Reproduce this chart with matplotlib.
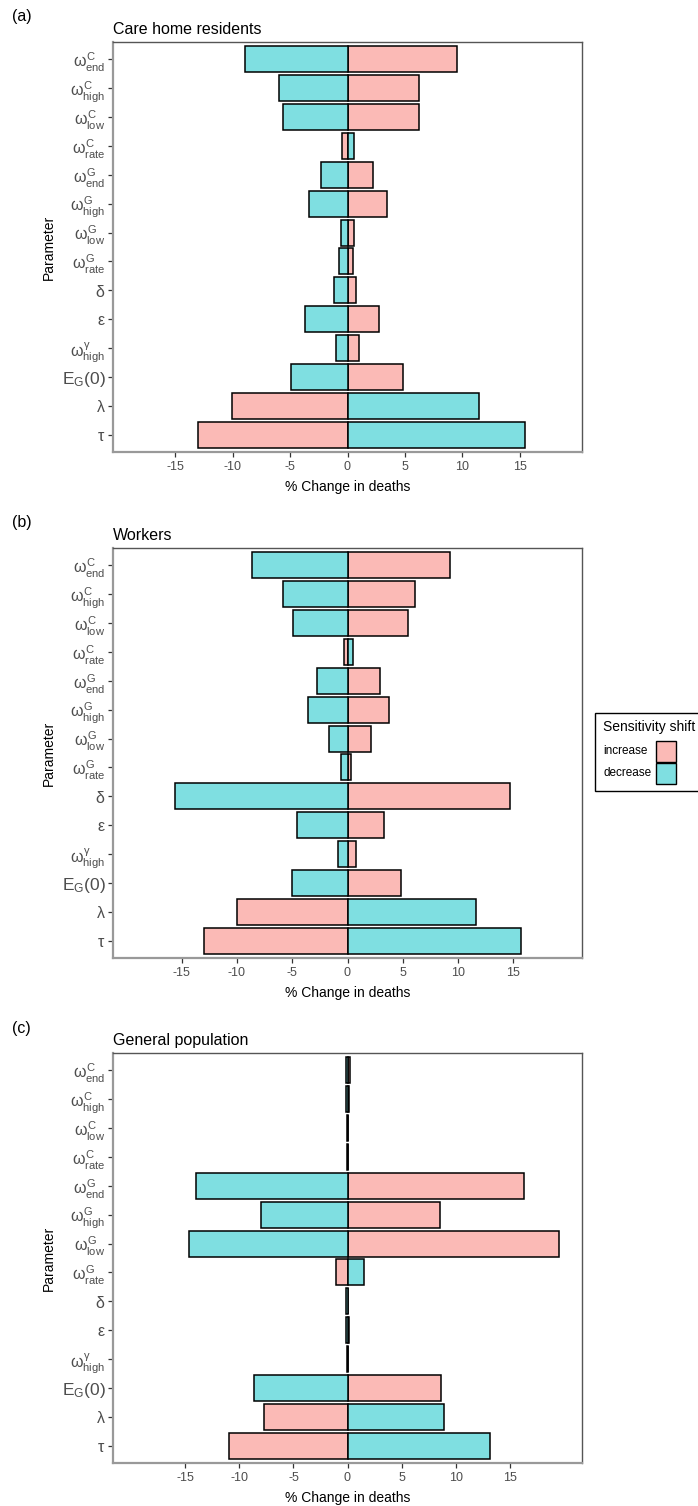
import matplotlib
matplotlib.use("Agg")
import matplotlib.pyplot as plt
from matplotlib.patches import Rectangle

plt.rcParams['font.family'] = ['Liberation Sans', 'DejaVu Sans']
plt.rcParams['mathtext.fontset'] = 'custom'
plt.rcParams['mathtext.rm'] = 'Liberation Sans'
plt.rcParams['mathtext.it'] = 'Liberation Sans'
plt.rcParams['mathtext.bf'] = 'Liberation Sans:bold'

# ---- data (top to bottom) ----
param_labels = [
    r'$\omega_{\mathrm{end}}^{\mathrm{C}}$', r'$\omega_{\mathrm{high}}^{\mathrm{C}}$',
    r'$\omega_{\mathrm{low}}^{\mathrm{C}}$', r'$\omega_{\mathrm{rate}}^{\mathrm{C}}$',
    r'$\omega_{\mathrm{end}}^{\mathrm{G}}$', r'$\omega_{\mathrm{high}}^{\mathrm{G}}$',
    r'$\omega_{\mathrm{low}}^{\mathrm{G}}$', r'$\omega_{\mathrm{rate}}^{\mathrm{G}}$',
    r'$\delta$', r'$\varepsilon$', r'$\omega_{\mathrm{high}}^{\gamma}$',
    r'$\mathrm{E_G(0)}$', r'$\lambda$', r'$\tau$',
]

care_increase = [9.54, 6.22, 6.22, -0.44, 2.24, 3.46, 0.60, 0.44, 0.78, 2.74, 0.96, 4.80, -10.08, -13.05]
care_decrease = [-8.93, -5.96, -5.60, 0.58, -2.30, -3.35, -0.58, -0.73, -1.17, -3.72, -0.96, -4.94, 11.50, 15.52]

work_increase = [9.30, 6.13, 5.50, -0.36, 2.92, 3.79, 2.08, 0.29, 14.70, 3.34, 0.79, 4.87, -10.00, -12.97]
work_decrease = [-8.63, -5.81, -4.91, 0.50, -2.79, -3.60, -1.71, -0.60, -15.63, -4.56, -0.84, -5.03, 11.62, 15.69]

gen_increase = [0.20, 0.15, 0.05, 0.01, 16.30, 8.60, 19.60, -1.02, 0.05, 0.12, 0.01, 8.61, -7.77, -10.94]
gen_decrease = [-0.18, -0.15, -0.08, -0.01, -14.00, -8.03, -14.70, 1.52, -0.12, -0.12, -0.01, -8.68, 8.97, 13.17]

panel_titles = ['Care home residents', 'Workers', 'General population']
panel_tags = ['(a)', '(b)', '(c)']
x_ticks = [-15, -10, -5, 0, 5, 10, 15]
x_limits = [20.45, 21.2, 21.7]
legend_title = 'Sensitivity shift'
legend_labels = ['increase', 'decrease']

pink = '#FBBAB6'
cyan = '#7FDFE1'
grey_txt = '#4D4D4D'

W, H = 698, 1506
fig = plt.figure(figsize=(W / 100, H / 100), dpi=100)

panels = [(care_increase, care_decrease), (work_increase, work_decrease), (gen_increase, gen_decrease)]
tops = [42, 548, 1053]
ph = 410
n = len(param_labels)
ypos = [n - 1 - i for i in range(n)]

for k, ((inc, dec), top) in enumerate(zip(panels, tops)):
    ax = fig.add_axes([113 / W, 1 - (top + ph) / H, (582 - 113) / W, ph / H])
    ax.barh(ypos, inc, height=0.9, color=pink, edgecolor='black', linewidth=1.1)
    ax.barh(ypos, dec, height=0.9, color=cyan, edgecolor='black', linewidth=1.1)
    ax.set_ylim(-0.6, n - 0.4)
    lim = x_limits[k]
    ax.set_xlim(-lim, lim)
    ax.set_xticks(x_ticks)
    ax.set_xticklabels([str(t) for t in x_ticks], color=grey_txt, fontsize=9)
    ax.set_yticks(ypos)
    ax.set_yticklabels(param_labels, color=grey_txt, fontsize=11.5)
    for lbl in ax.get_yticklabels():
        if 'E_G' in lbl.get_text():
            lbl.set_fontsize(12.5)
    ax.tick_params(axis='both', colors='#333333', length=3.5, width=0.9, labelcolor=grey_txt)
    ax.tick_params(axis='x', pad=3)
    ax.tick_params(axis='y', pad=2)
    for s in ['left', 'bottom']:
        ax.spines[s].set_color('#999999')
        ax.spines[s].set_linewidth(1.6)
    for s in ['top', 'right']:
        ax.spines[s].set_color('#555555')
        ax.spines[s].set_linewidth(1.0)
    ax.set_xlabel('% Change in deaths', fontsize=10, labelpad=5)
    ax.set_ylabel('Parameter', fontsize=10, labelpad=4)
    ax.set_title(panel_titles[k], loc='left', fontsize=11.5, pad=6)
    fig.text(12 / W, 1 - (top - 25) / H, panel_tags[k], fontsize=11.5, ha='left', va='center')

# ---- legend drawn in figure pixel coordinates ----
def fx(px):
    return px / W

def fy(py):
    return 1 - py / H

fig.patches.append(Rectangle((fx(595), fy(791)), fx(700) - fx(595), fy(713) - fy(791),
                             transform=fig.transFigure, facecolor='white', edgecolor='black',
                             linewidth=1.0, zorder=5))
fig.text(fx(603), fy(727), legend_title, fontsize=10, ha='left', va='center', zorder=6)
key_colors = [pink, cyan]
for i, (lab, col) in enumerate(zip(legend_labels, key_colors)):
    y0 = 741 + i * 22
    fig.patches.append(Rectangle((fx(656), fy(y0 + 21)), fx(676) - fx(656), fy(y0) - fy(y0 + 21),
                                 transform=fig.transFigure, facecolor=col, edgecolor='black',
                                 linewidth=1.0, zorder=6))
    fig.text(fx(603), fy(y0 + 10.5), lab, fontsize=8.5, ha='left', va='center', zorder=6)

fig.savefig('out.png', dpi=100)
